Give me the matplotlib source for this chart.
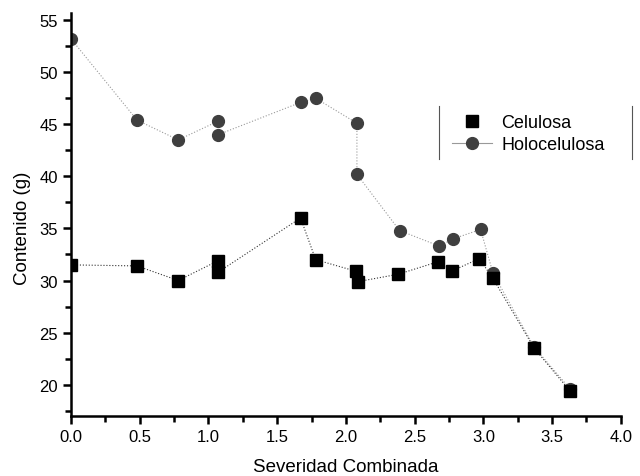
import matplotlib.pyplot as plt
from matplotlib.ticker import MultipleLocator
from matplotlib.lines import Line2D

plt.rcParams['font.family'] = ['Liberation Sans', 'DejaVu Sans']

# datos
x_cel = [0.0, 0.48, 0.78, 1.07, 1.07, 1.67, 1.78, 2.07, 2.09, 2.38, 2.67, 2.77, 2.97, 3.07, 3.37, 3.63]
celulosa = [31.5, 31.4, 30.0, 31.9, 30.8, 36.0, 32.0, 30.9, 29.9, 30.6, 31.8, 30.9, 32.1, 30.2, 23.5, 19.4]

x_holo = [0.0, 0.48, 0.78, 1.07, 1.07, 1.67, 1.78, 2.08, 2.08, 2.39, 2.68, 2.78, 2.98, 3.07, 3.37, 3.63]
holocelulosa = [53.2, 45.4, 43.5, 45.3, 44.0, 47.1, 47.5, 45.1, 40.2, 34.8, 33.3, 34.0, 34.9, 30.7, 23.6, 19.6]

fig = plt.figure(figsize=(6.4, 4.77), dpi=100)
ax = fig.add_axes([0.111, 0.126, 0.859, 0.845])

ax.plot(x_holo, holocelulosa, color='#999999', lw=0.8, ls=':',
        marker='o', ms=8.5, mfc='#3f3f3f', mec='#3f3f3f', zorder=2)
ax.plot(x_cel, celulosa, color='#333333', lw=0.8, ls=':',
        marker='s', ms=8, mfc='black', mec='black', zorder=3)

ax.set_xlim(0, 4.0)
ax.set_ylim(17, 55.7)
ax.xaxis.set_major_locator(MultipleLocator(0.5))
ax.xaxis.set_minor_locator(MultipleLocator(0.25))
ax.yaxis.set_major_locator(MultipleLocator(5))
ax.yaxis.set_minor_locator(MultipleLocator(2.5))
ax.xaxis.set_major_formatter(plt.FormatStrFormatter('%.1f'))

for s in ['top', 'right']:
    ax.spines[s].set_visible(False)
for s in ['left', 'bottom']:
    ax.spines[s].set_linewidth(1.8)
ax.tick_params(which='major', direction='out', length=6, width=1.8, labelsize=12, colors='black')
ax.tick_params(which='minor', direction='out', length=4, width=1.8)

ax.set_xlabel('Severidad Combinada', fontsize=13.5, labelpad=10)
ax.set_ylabel('Contenido (g)', fontsize=13.5)
ax.yaxis.set_label_coords(-0.073, 0.469)

# leyenda
h1 = Line2D([], [], ls='none', marker='s', ms=8, mfc='black', mec='black')
h2 = Line2D([], [], color='#999999', lw=0.8, marker='o', ms=8.5, mfc='#3f3f3f', mec='#3f3f3f')
leg = fig.legend([h1, h2], ['Celulosa', 'Holocelulosa'], loc='center left',
                 bbox_to_anchor=(0.706, 0.718), bbox_transform=fig.transFigure,
                 frameon=False, fontsize=13, borderpad=0, borderaxespad=0,
                 handlelength=2.2, labelspacing=0.28, handletextpad=0.55)
fig.add_artist(Line2D([0.686, 0.686], [0.665, 0.776], color='#555555', lw=0.8))
fig.add_artist(Line2D([0.988, 0.988], [0.665, 0.776], color='#555555', lw=0.8))

fig.savefig('out.png', dpi=100)
